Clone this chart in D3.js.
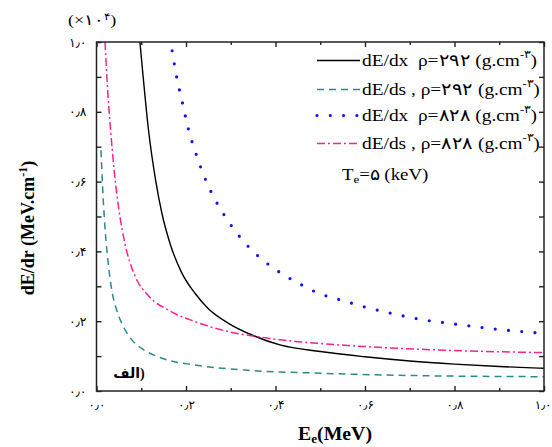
<!DOCTYPE html>
<html><head><meta charset="utf-8">
<script src="https://cdn.jsdelivr.net/npm/d3@7"></script>
<style>
body{margin:0;background:#fff;}
svg{display:block;}
</style></head><body>
<svg id="c" width="552" height="447"></svg>
<script>
// ---- data (values in units of 10^4 MeV/cm) ----
const xTicks = [0, 0.2, 0.4, 0.6, 0.8, 1.0];
const yTicks = [0, 0.2, 0.4, 0.6, 0.8, 1.0];
const minorTicks = [0.1, 0.3, 0.5, 0.7, 0.9];

const dxRho292E = [0.097,0.105,0.116,0.132,0.146,0.165,0.19,0.22,0.25,0.295,0.35,0.41,0.5,0.6,0.7,0.8,0.9,1.0];
const dxRho292V = [1.0,0.89,0.75,0.605,0.51,0.42,0.34,0.28,0.236,0.194,0.159,0.132,0.113,0.098,0.086,0.077,0.070,0.065];

const dsRho292E = [0.010,0.015,0.020,0.025,0.034,0.045,0.060,0.080,0.101,0.146,0.22,0.332,0.5,0.72,1.0];
const dsRho292V = [0.69,0.55,0.45,0.38,0.29,0.232,0.185,0.145,0.122,0.094,0.0745,0.060,0.051,0.044,0.041];

const dxRho828E = [0.169,0.179,0.192,0.205,0.222,0.242,0.254,0.283,0.317,0.354,0.399,0.451,0.507,0.537,0.596,0.682,0.712,0.80,0.888,0.98,1.0];
const dxRho828V = [0.975,0.90,0.826,0.752,0.681,0.611,0.576,0.509,0.447,0.395,0.349,0.309,0.275,0.264,0.242,0.216,0.208,0.192,0.178,0.167,0.165];

const dsRho828E = [0.019,0.025,0.032,0.040,0.050,0.064,0.086,0.116,0.16,0.22,0.295,0.369,0.444,0.5,0.648,0.797,1.0];
const dsRho828V = [1.0,0.86,0.74,0.625,0.52,0.42,0.33,0.273,0.232,0.199,0.17,0.154,0.142,0.136,0.124,0.116,0.11];

const legendLabels = [
  ["dE/dx\u00A0\u00A0ρ=۲۹۲ (g.cm","-۳",")"],
  ["dE/ds , ρ=۲۹۲ (g.cm","-۳",")"],
  ["dE/dx\u00A0\u00A0ρ=۸۲۸ (g.cm","-۳",")"],
  ["dE/ds , ρ=۸۲۸ (g.cm","-۳",")"]
];

// ---- chart ----
const SERIF = "'Liberation Serif','Times New Roman',Times,serif";
const FA = "'DejaVu Sans',sans-serif";
const svg = d3.select("#c");
const L=96.5, R=544, T=42, B=391;
const x = d3.scaleLinear().domain([0,1]).range([L,R]);
const y = d3.scaleLinear().domain([0,1]).range([B,T]);

const fa = s => s.replace(/[0-9]/g, d => "۰۱۲۳۴۵۶۷۸۹"[+d]).replace(".", "٫");
const fmt = v => fa(d3.format(".1f")(v));

const series = [
  {E:dxRho292E, V:dxRho292V, color:"#000", w:1.4, dash:null, cap:"butt"},
  {E:dsRho292E, V:dsRho292V, color:"#2a8a8a", w:1.5, dash:"7,5", cap:"butt"},
  {E:dxRho828E, V:dxRho828V, color:"#1010f0", w:3.2, dash:"0,13.3", cap:"round"},
  {E:dsRho828E, V:dsRho828V, color:"#ff2090", w:1.5, dash:"8,3,2,3", cap:"butt"}
];

svg.append("clipPath").attr("id","clip").append("rect")
  .attr("x",L).attr("y",T).attr("width",R-L).attr("height",B-T);

const line = d3.line().x(d=>x(d[0])).y(d=>y(d[1])).curve(d3.curveMonotoneX);
const g = svg.append("g").attr("clip-path","url(#clip)");
series.forEach(s=>{
  const pts = s.E.map((e,i)=>[e,s.V[i]]);
  g.append("path").attr("d",line(pts)).attr("fill","none")
    .attr("stroke",s.color).attr("stroke-width",s.w)
    .attr("stroke-dasharray",s.dash).attr("stroke-linecap",s.cap);
});

// axes
function styleAxis(sel){
  sel.select(".domain").remove();
  sel.selectAll(".tick line").attr("stroke","#222").attr("stroke-width",1.4);
}
const xa = svg.append("g").attr("transform",`translate(0,${B})`)
  .call(d3.axisBottom(x).tickValues(xTicks).tickSize(-5).tickPadding(9).tickFormat(fmt))
  .call(styleAxis);
xa.selectAll("text").attr("font-size",12).attr("font-family",FA).attr("fill","#000");
xa.selectAll("text").filter(d=>d===1).attr("text-anchor","end").attr("dx",7);
svg.append("g").attr("transform",`translate(0,${B})`)
  .call(d3.axisBottom(x).tickValues(minorTicks).tickSize(-3).tickFormat("")).call(styleAxis);
svg.append("g").attr("transform",`translate(0,${T})`)
  .call(d3.axisTop(x).tickValues(xTicks).tickSize(-5).tickFormat("")).call(styleAxis);
svg.append("g").attr("transform",`translate(0,${T})`)
  .call(d3.axisTop(x).tickValues(minorTicks).tickSize(-3).tickFormat("")).call(styleAxis);
svg.append("g").attr("transform",`translate(${L},0)`)
  .call(d3.axisLeft(y).tickValues(yTicks).tickSize(-5).tickPadding(10).tickFormat(fmt))
  .call(styleAxis).selectAll("text").attr("font-size",12.5).attr("font-family",FA).attr("fill","#000");
svg.append("g").attr("transform",`translate(${L},0)`)
  .call(d3.axisLeft(y).tickValues(minorTicks).tickSize(-5).tickFormat("")).call(styleAxis);
svg.append("g").attr("transform",`translate(${R},0)`)
  .call(d3.axisRight(y).tickValues(yTicks).tickSize(-5).tickFormat("")).call(styleAxis);
svg.append("g").attr("transform",`translate(${R},0)`)
  .call(d3.axisRight(y).tickValues(minorTicks).tickSize(-5).tickFormat("")).call(styleAxis);

svg.append("rect").attr("x",L).attr("y",T).attr("width",R-L).attr("height",B-T)
  .attr("fill","none").attr("stroke","#222").attr("stroke-width",1.5);

// multiplier
const m = svg.append("text").attr("transform","translate(68,25) scale(1.2,1)")
  .attr("font-size",15).attr("font-family",SERIF);
m.append("tspan").text("(×۱۰");
m.append("tspan").attr("dy",-5).attr("font-size",10).text("۴");
m.append("tspan").attr("dy",5).text(")");

// axis titles
const xt = svg.append("text").attr("transform","translate(335,440) scale(1.1,1)").attr("text-anchor","middle")
  .attr("font-size",18).attr("font-weight","bold").attr("font-family",SERIF);
xt.append("tspan").text("E");
xt.append("tspan").attr("font-size",12).attr("dy",3).text("e");
xt.append("tspan").attr("dy",-3).text("(MeV)");

const yt = svg.append("text").attr("transform","translate(34,228) rotate(-90)")
  .attr("text-anchor","middle").attr("font-size",18).attr("font-weight","bold").attr("font-family",SERIF);
yt.append("tspan").text("dE/dr (MeV.cm");
yt.append("tspan").attr("font-size",12).attr("dy",-7).text("-1");
yt.append("tspan").attr("dy",7).text(")");

// panel label
svg.append("text").attr("x",140).attr("y",378).attr("text-anchor","end").attr("font-size",14)
  .attr("font-weight","bold").attr("font-family",FA).text("الف");
svg.append("text").attr("x",140).attr("y",378).attr("font-size",14)
  .attr("font-weight","bold").attr("font-family",SERIF).text(")");

// legend
const rowsY = [60.5, 89.5, 115.5, 143.5];
legendLabels.forEach((lab,i)=>{
  const s = series[i];
  svg.append("line").attr("x1",317).attr("x2",360).attr("y1",rowsY[i]).attr("y2",rowsY[i])
    .attr("stroke",s.color).attr("stroke-width",s.w)
    .attr("stroke-dasharray",s.dash).attr("stroke-linecap",s.cap);
  const t = svg.append("text").attr("transform",`translate(362,${rowsY[i]+5.5}) scale(1.14,1)`)
    .attr("font-size",17).attr("font-family",SERIF);
  t.append("tspan").text(lab[0]);
  t.append("tspan").attr("font-size",11).attr("dy",-8).text(lab[1]);
  t.append("tspan").attr("dy",8).text(lab[2]);
});
const te = svg.append("text").attr("transform","translate(342,180) scale(1.18,1)")
  .attr("font-size",16).attr("font-family",SERIF);
te.append("tspan").text("T");
te.append("tspan").attr("font-size",11).attr("dy",3).text("e");
te.append("tspan").attr("dy",-3).text("=۵ (keV)");
</script>
</body></html>
